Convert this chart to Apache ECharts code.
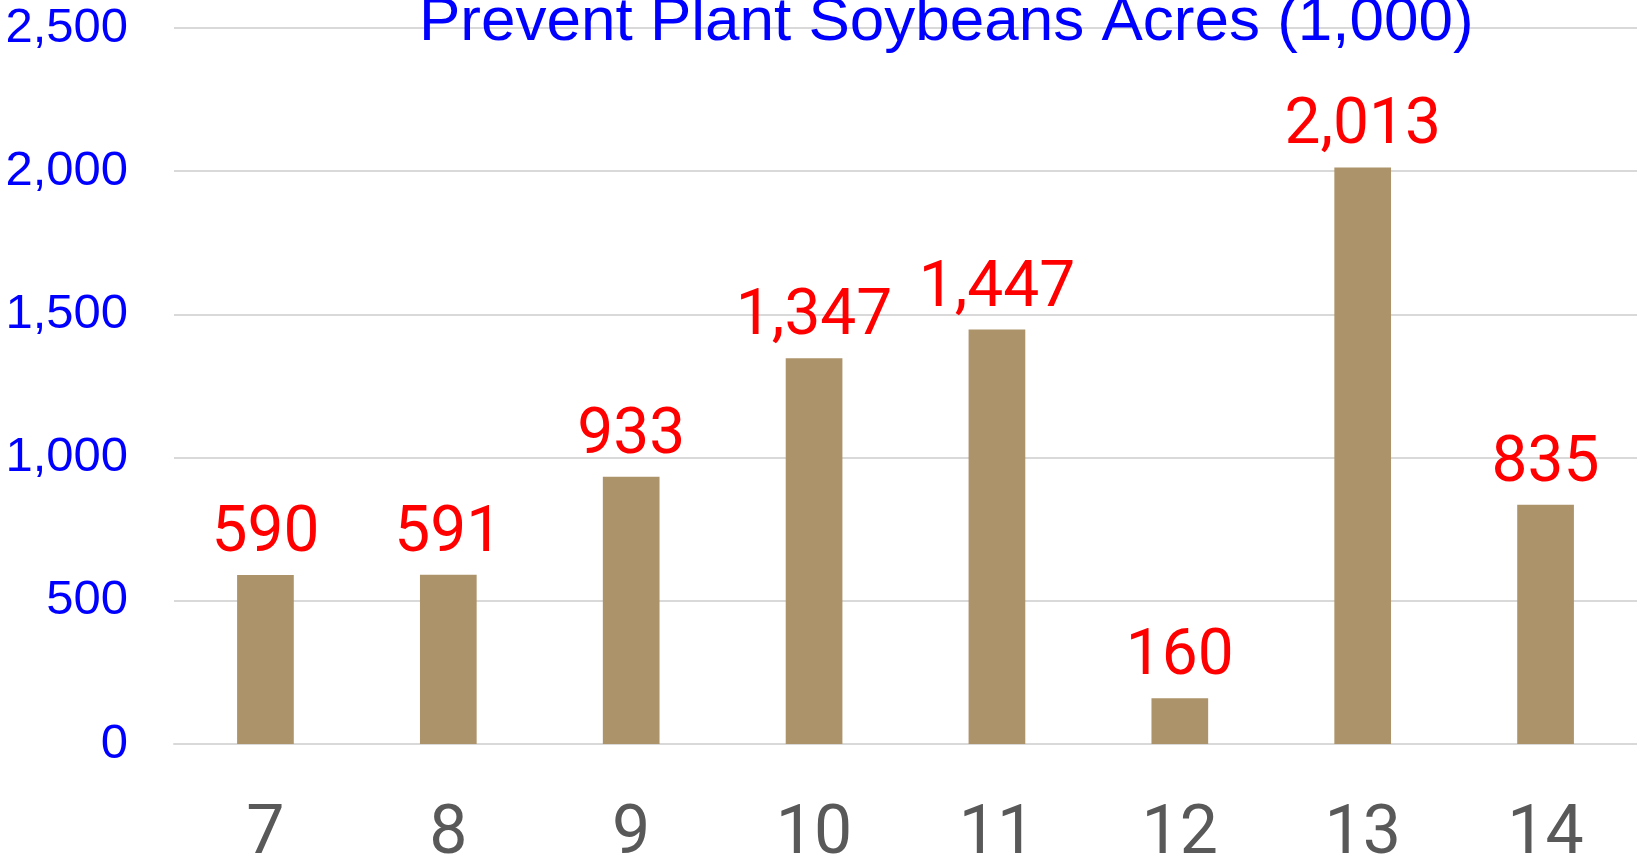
<!DOCTYPE html>
<html>
<head>
<meta charset="utf-8">
<script src="https://cdn.jsdelivr.net/npm/echarts@6/dist/echarts.min.js"></script>
<style>
  html, body { margin: 0; padding: 0; background: #fff; }
  #main { width: 1637px; height: 857px; }
</style>
</head>
<body>
<div id="main"></div>
<script>
// 数据
var categories = ['7', '8', '9', '10', '11', '12', '13', '14'];
var acres = [590, 591, 933, 1347, 1447, 160, 2013, 835];
var yTicks = [0, 500, 1000, 1500, 2000, 2500];

var myChart = echarts.init(document.getElementById('main'), null, { renderer: 'canvas' });

var option = {
	animation: false,
	title: {
		text: 'Prevent Plant Soybeans Acres (1,000)',
		left: 414,
		top: -13,
		textStyle: {
			color: '#0000ff',
			fontFamily: 'Liberation Sans',
			fontWeight: 'normal',
			fontSize: 62
		}
	},
	grid: {
		left: 174,
		right: 0,
		top: 28,
		bottom: 113,
		containLabel: false,
		outerBoundsMode: 'none'
	},
	xAxis: {
		type: 'category',
		data: categories,
		axisLine: { show: true, lineStyle: { color: '#d9d9d9', width: 2 } },
		axisTick: { show: false },
		axisLabel: {
			color: '#595959',
			fontFamily: 'Roboto',
			fontSize: 68,
			margin: 58
		}
	},
	yAxis: {
		type: 'value',
		min: yTicks[0],
		max: yTicks[yTicks.length - 1],
		interval: 500,
		axisLine: { show: false },
		axisTick: { show: false },
		splitLine: { lineStyle: { color: '#d9d9d9', width: 2 } },
		axisLabel: {
			color: '#0000ff',
			fontFamily: 'Liberation Sans',
			fontSize: 49,
			margin: 46,
			padding: [10, 0, 0, 0],
			formatter: function (v) { return v.toLocaleString('en-US'); }
		}
	},
	series: [{
		type: 'bar',
		data: acres,
		barWidth: '31%',
		itemStyle: { color: '#ac936a' },
		label: {
			show: true,
			position: 'top',
			distance: 8,
			color: '#ff0000',
			fontFamily: 'Roboto',
			fontSize: 64,
			formatter: function (p) { return p.value.toLocaleString('en-US'); }
		}
	}]
};

myChart.setOption(option);
</script>
</body>
</html>
